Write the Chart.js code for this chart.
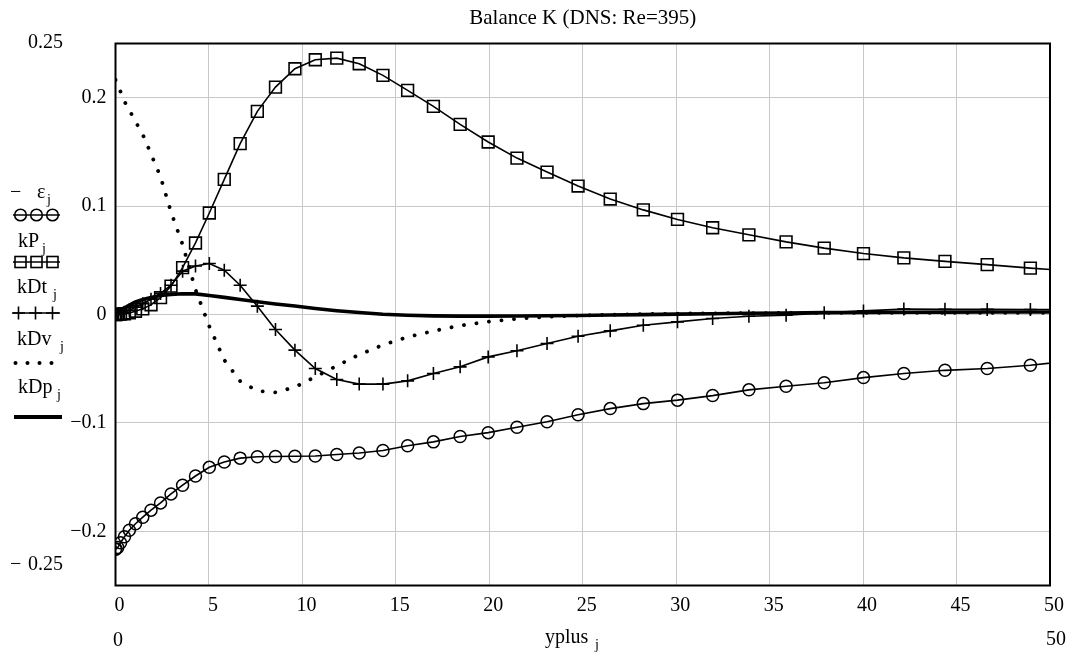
<!DOCTYPE html>
<html><head><meta charset="utf-8">
<script src="https://cdn.jsdelivr.net/npm/chart.js@4.4.1/dist/chart.umd.min.js"></script>
<style>html,body{margin:0;padding:0;background:#fff}#c{display:block}</style>
</head><body>
<canvas id="c" width="1068" height="654"></canvas>
<script>
// yplus_j grid (DNS points)
const yplus = [0, 0.03, 0.12, 0.27, 0.48, 0.74, 1.07, 1.46, 1.90, 2.41, 2.97, 3.59, 4.28, 5.02, 5.82, 6.67, 7.59, 8.56, 9.60, 10.69, 11.84, 13.04, 14.31, 15.63, 17.01, 18.44, 19.94, 21.48, 23.09, 24.75, 26.47, 28.24, 30.07, 31.95, 33.89, 35.88, 37.92, 40.02, 42.18, 44.38, 46.64, 48.95, 51.32];
const negEps = [-0.2165, -0.2163, -0.2150, -0.2105, -0.2050, -0.1990, -0.1930, -0.1870, -0.1805, -0.1738, -0.1655, -0.1575, -0.1490, -0.1410, -0.1360, -0.1325, -0.1312, -0.1310, -0.1308, -0.1305, -0.1292, -0.1277, -0.1255, -0.1210, -0.1175, -0.1125, -0.1090, -0.1040, -0.0990, -0.0925, -0.0868, -0.0822, -0.0790, -0.0748, -0.0695, -0.0662, -0.0630, -0.0582, -0.0545, -0.0515, -0.0498, -0.0468, -0.0425];
const kP = [0, 0, 0.0001, 0.0003, 0.0007, 0.0015, 0.0030, 0.0052, 0.0090, 0.0155, 0.0262, 0.0433, 0.0660, 0.0936, 0.1247, 0.1576, 0.1874, 0.2098, 0.2267, 0.2350, 0.2365, 0.2313, 0.2206, 0.2067, 0.1920, 0.1754, 0.1591, 0.1443, 0.1314, 0.1185, 0.1065, 0.0965, 0.0877, 0.0800, 0.0735, 0.0670, 0.0612, 0.0562, 0.0522, 0.0490, 0.0460, 0.0428, 0.0400];
const kDt = [0, 0, 0.0002, 0.0008, 0.0020, 0.0040, 0.0068, 0.0100, 0.0140, 0.0194, 0.0270, 0.0400, 0.0448, 0.0470, 0.0408, 0.0270, 0.0077, -0.0138, -0.0329, -0.0498, -0.0599, -0.0642, -0.0642, -0.0612, -0.0544, -0.0483, -0.0391, -0.0335, -0.0267, -0.0200, -0.0151, -0.0099, -0.0068, -0.0037, -0.0016, -0.0006, 0.0015, 0.0033, 0.0050, 0.0048, 0.0047, 0.0046, 0.0045];
const kDv = [0.2165, 0.2153, 0.2118, 0.2055, 0.1965, 0.1885, 0.1780, 0.1660, 0.1480, 0.1270, 0.0945, 0.0645, 0.0230, -0.0110, -0.0420, -0.0614, -0.0705, -0.0719, -0.0670, -0.0575, -0.0474, -0.0370, -0.0280, -0.0208, -0.0152, -0.0102, -0.0066, -0.0040, -0.0022, -0.0010, -0.0002, 0.0004, 0.0008, 0.0011, 0.0013, 0.0014, 0.0015, 0.0015, 0.0015, 0.0015, 0.0015, 0.0015, 0.0015];
const kDp = [0, 0.0004, 0.0016, 0.0035, 0.0060, 0.0088, 0.0115, 0.0138, 0.0157, 0.0175, 0.0186, 0.0192, 0.0190, 0.0175, 0.0158, 0.0138, 0.0118, 0.0097, 0.0078, 0.0055, 0.0035, 0.0018, 0.0002, -0.0007, -0.0013, -0.0015, -0.0015, -0.0014, -0.0012, -0.0009, -0.0005, -0.0001, 0.0003, 0.0007, 0.0011, 0.0014, 0.0017, 0.0019, 0.0021, 0.0022, 0.0023, 0.0023, 0.0023];
const xTicks = [0, 5, 10, 15, 20, 25, 30, 35, 40, 45, 50];
const yTicks = [-0.2, -0.1, 0, 0.1, 0.2];
const xLimits = [0, 50];
const yLimits = [-0.25, 0.25];
const titleText = 'Balance K (DNS: Re=395)';
const xName = 'yplus';
const seriesNames = ['ε', 'kP', 'kDt', 'kDv', 'kDp'];

const FONT = '"Liberation Serif", "Times New Roman", serif';
const pts = arr => yplus.map((x, i) => ({x: x, y: arr[i]}));
const fmt = v => v === 0 ? '0' : (v < 0 ? '\u2212' + String(Math.abs(v)) : String(v));

const extras = {
  id: 'extras',
  afterDraw(chart) {
    const ctx = chart.ctx, a = chart.chartArea;
    ctx.save();
    ctx.strokeStyle = '#000';
    ctx.lineWidth = 2;
    ctx.strokeRect(a.left, a.top, a.right - a.left, a.bottom - a.top);
    ctx.fillStyle = '#000';
    ctx.textBaseline = 'alphabetic';
    ctx.textAlign = 'left';
    const main = '20px ' + FONT, sub = '14px ' + FONT;
    const txt = (s, x, y, f) => { ctx.font = f || main; ctx.fillText(s, x, y); };
    // axis limit labels
    txt(String(yLimits[1]), 28, 48);
    txt('\u2212', 10, 570);
    txt(String(Math.abs(yLimits[0])), 28, 570);
    txt(String(xLimits[0]), 113, 646);
    txt(String(xLimits[1]), 1046, 645);
    // x axis name
    txt(xName, 545, 643);
    txt('j', 595, 649, sub);
    // legend texts
    txt('\u2212', 10, 198);
    txt(seriesNames[0], 37, 198);
    txt('j', 47, 204, sub);
    txt(seriesNames[1], 18, 247); txt('j', 42, 253, sub);
    txt(seriesNames[2], 17, 293); txt('j', 53, 299, sub);
    txt(seriesNames[3], 17, 345); txt('j', 60, 351, sub);
    txt(seriesNames[4], 18, 393); txt('j', 57, 399, sub);
    // legend markers
    ctx.lineWidth = 1.6;
    const xs = [20.5, 36.5, 52.5];
    // circles
    ctx.beginPath(); ctx.moveTo(13, 215); ctx.lineTo(60, 215); ctx.stroke();
    xs.forEach(x => { ctx.beginPath(); ctx.arc(x, 215, 5.8, 0, Math.PI * 2); ctx.stroke(); });
    // squares
    ctx.beginPath(); ctx.moveTo(13, 262); ctx.lineTo(60, 262); ctx.stroke();
    xs.forEach(x => { ctx.strokeRect(x - 5.5, 262 - 5.5, 11, 11); });
    // plus
    ctx.beginPath(); ctx.moveTo(13, 313); ctx.lineTo(60, 313); ctx.stroke();
    [18.5, 35.5, 52.5].forEach(x => { ctx.beginPath(); ctx.moveTo(x, 306.5); ctx.lineTo(x, 319.5); ctx.moveTo(x - 6.5, 313); ctx.lineTo(x + 6.5, 313); ctx.stroke(); });
    // dots
    [15.5, 27.5, 39.5, 51.5].forEach(x => { ctx.beginPath(); ctx.arc(x, 363, 2, 0, Math.PI * 2); ctx.fill(); });
    // thick
    ctx.lineWidth = 3.8;
    ctx.beginPath(); ctx.moveTo(14, 417); ctx.lineTo(62, 417); ctx.stroke();
    ctx.restore();
  }
};

new Chart(document.getElementById('c'), {
  type: 'line',
  data: {
    datasets: [
      {label: '-eps', data: pts(negEps), borderColor: '#000', borderWidth: 1.6, pointStyle: 'circle', pointRadius: 6, pointBorderWidth: 1.5, pointBorderColor: '#000', pointBackgroundColor: 'rgba(0,0,0,0)', tension: 0, order: 5},
      {label: 'kP', data: pts(kP), borderColor: '#000', borderWidth: 1.6, pointStyle: 'rect', pointRadius: 8.3, pointBorderWidth: 1.6, pointBorderColor: '#000', pointBackgroundColor: 'rgba(0,0,0,0)', tension: 0, order: 4},
      {label: 'kDt', data: pts(kDt), borderColor: '#000', borderWidth: 1.6, pointStyle: 'cross', pointRadius: 6.5, pointBorderWidth: 1.6, pointBorderColor: '#000', pointBackgroundColor: 'rgba(0,0,0,0)', tension: 0, order: 3},
      {label: 'kDv', data: pts(kDv), borderColor: '#000', borderWidth: 3.8, borderDash: [0.1, 12.5], borderCapStyle: 'round', pointRadius: 0, tension: 0, order: 2},
      {label: 'kDp', data: pts(kDp), borderColor: '#000', borderWidth: 3.6, pointRadius: 0, tension: 0, order: 1}
    ]
  },
  options: {
    responsive: false,
    animation: false,
    devicePixelRatio: 1,
    layout: {padding: {top: 0, right: 18, bottom: 0, left: 0}},
    plugins: {
      legend: {display: false},
      tooltip: {enabled: false},
      title: {display: true, text: titleText, fullSize: false, color: '#000', font: {family: FONT, size: 21, weight: 'normal', lineHeight: 1.2}, padding: {top: 6, bottom: 12.3}}
    },
    scales: {
      x: {
        type: 'linear', min: xLimits[0], max: xLimits[1],
        afterBuildTicks: s => { s.ticks = xTicks.map(v => ({value: v})); },
        afterFit: s => { s.height = 68.5; },
        grid: {color: '#c8c8c8', lineWidth: 1, drawTicks: false},
        border: {display: false},
        ticks: {color: '#000', font: {family: FONT, size: 20}, padding: 8, labelOffset: 4, maxRotation: 0, autoSkip: false, callback: v => String(v)}
      },
      y: {
        type: 'linear', min: yLimits[0], max: yLimits[1],
        afterBuildTicks: s => { s.ticks = yTicks.map(v => ({value: v})); },
        afterFit: s => { s.width = 115.5; },
        grid: {color: '#c8c8c8', lineWidth: 1, drawTicks: false},
        border: {display: false},
        ticks: {color: '#000', font: {family: FONT, size: 20}, padding: 9, autoSkip: false, callback: v => fmt(v)}
      }
    }
  },
  plugins: [extras]
});
</script>
</body></html>
